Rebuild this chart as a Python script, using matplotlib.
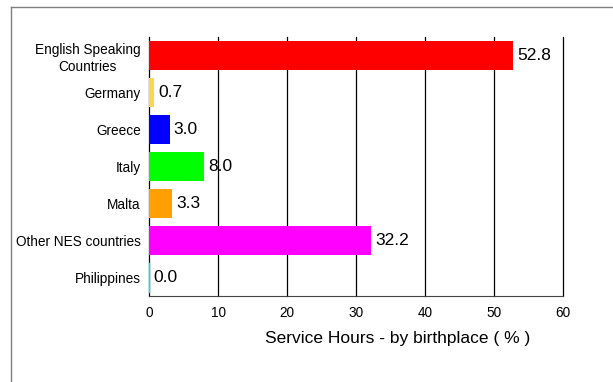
import matplotlib.pyplot as plt
from matplotlib.lines import Line2D

plt.rcParams['font.family'] = ['Liberation Sans', 'DejaVu Sans']

# data
countries = ['English Speaking\nCountries', 'Germany', 'Greece', 'Italy',
             'Malta', 'Other NES countries', 'Philippines']
values = [52.8, 0.7, 3.0, 8.0, 3.3, 32.2, 0.0]
colors = ['#ff0000', '#ffd54f', '#0000ff', '#00ff00', '#ffa000', '#ff00ff', '#00e5ff']
xticks = [0, 10, 20, 30, 40, 50, 60]

fig = plt.figure(figsize=(6.13, 3.82), dpi=100)
ax = fig.add_axes([0.2431, 0.2251, 0.6753, 0.678])

ypos = list(range(len(countries)))
ax.barh(ypos, values, height=0.8, color=colors, zorder=3)
# Philippines is zero, just a thin line in the picture
ax.plot([0, 0], [ypos[-1] - 0.4, ypos[-1] + 0.4], color=colors[-1], lw=1.0,
        zorder=6, clip_on=False)

for y, v in zip(ypos, values):
    ax.text(v + 0.6, y, f'{v:.1f}', va='center', ha='left', fontsize=12.5, zorder=5)

ax.set_ylim(len(countries) - 0.5, -0.5)
ax.set_yticks(ypos)
ax.set_yticklabels(countries, fontsize=9.8, linespacing=1.25)
for lbl in ax.get_yticklabels():
    lbl.set_multialignment('center')
ax.tick_params(axis='y', length=0, pad=6)

ax.set_xlim(0, 60)
ax.set_xticks(xticks)
ax.set_xticklabels([str(t) for t in xticks], fontsize=9.8)
ax.tick_params(axis='x', length=0, pad=7)
# vertical grid lines (including the one at 60)
for t in xticks[1:]:
    ax.axvline(t, color='black', lw=0.9, zorder=1, clip_on=False)

for s in ['top', 'right']:
    ax.spines[s].set_visible(False)
ax.spines['left'].set_color('black')
ax.spines['left'].set_linewidth(0.9)
ax.spines['bottom'].set_color('#444444')

ax.set_xlabel('Service Hours - by birthplace ( % )', fontsize=12.5)
ax.xaxis.set_label_coords(0.6, -0.135)

# grey outer frame (top and left edges)
fig.add_artist(Line2D([0.018, 1.0], [0.9817, 0.9817], color='#7f7f7f', lw=1))
fig.add_artist(Line2D([0.018, 0.018], [0.0, 0.9817], color='#7f7f7f', lw=1))

fig.savefig('out.png', dpi=100)
